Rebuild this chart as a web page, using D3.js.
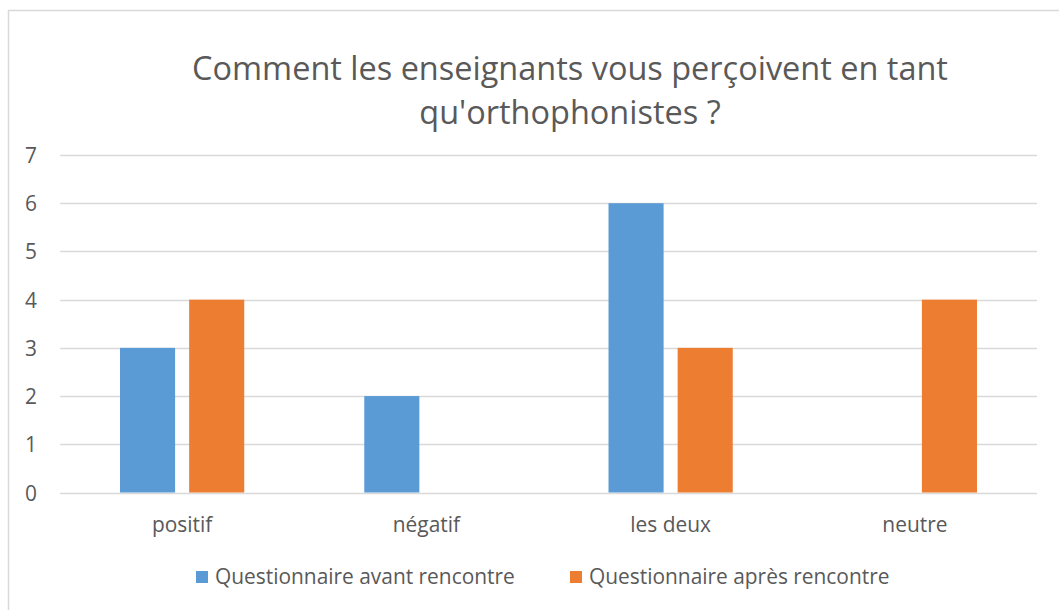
<!DOCTYPE html>
<html>
<head>
<meta charset="utf-8">
<script src="https://cdn.jsdelivr.net/npm/d3@7"></script>
<style>
  html, body { margin: 0; padding: 0; background: #fff; }
  svg { display: block; }
</style>
</head>
<body>
<svg id="chart" width="1059" height="610"></svg>
<script>
// ---- data ----
const categories = ["positif", "négatif", "les deux", "neutre"];
const seriesNames = ["Questionnaire avant rencontre", "Questionnaire après rencontre"];
const avantValues = [3, 2, 6, 0];
const apresValues = [4, 0, 3, 4];
const yTickValues = [0, 1, 2, 3, 4, 5, 6, 7];
const titleLines = ["Comment les enseignants vous perçoivent en tant", "qu'orthophonistes ?"];

// ---- style ----
const colors = ["#5B9BD5", "#ED7D31"];
const textColor = "#595959";
const gridColor = "#D9D9D9";
const fontFamily = "'Open Sans', 'Noto Sans', sans-serif";

const svg = d3.select("#chart");

// border
svg.append("rect")
  .attr("x", 8.5).attr("y", 10.5)
  .attr("width", 1200).attr("height", 800)
  .attr("fill", "#fff").attr("stroke", gridColor).attr("stroke-width", 1.5);

// helper: fit font size so that a text reaches a target width
function fitSize(str, target, base) {
  const t = svg.append("text").attr("font-family", fontFamily).attr("font-size", base).text(str);
  const w = t.node().getComputedTextLength();
  t.remove();
  return base * target / w;
}
const titleSize = fitSize(titleLines[0], 756, 30);
const labelSize = fitSize(seriesNames[0], 300, 20);

// scales
const x = d3.scaleBand().domain(categories).range([60, 1037]).padding(0);
const y = d3.scaleLinear().domain([0, 7]).range([492.5, 155]);
const bw = x.bandwidth();
const xSub = d3.scaleBand().domain([0, 1])
  .range([0.2457 * bw, 0.7543 * bw]).paddingInner(0.203).paddingOuter(0);

// gridlines
svg.append("g").selectAll("line").data(yTickValues).join("line")
  .attr("x1", 60).attr("x2", 1037)
  .attr("y1", d => Math.round(y(d)) + 0.5).attr("y2", d => Math.round(y(d)) + 0.5)
  .attr("stroke", gridColor).attr("stroke-width", 1.3);

// y axis labels via d3 axis
const yAxis = svg.append("g").attr("transform", "translate(37,0)")
  .call(d3.axisLeft(y).tickValues(yTickValues).tickSize(0).tickPadding(0).tickFormat(d3.format("d")));
yAxis.select(".domain").remove();
yAxis.selectAll("text").attr("fill", textColor).attr("font-family", fontFamily)
  .attr("font-size", labelSize).attr("dy", "0.36em");

// x axis labels
const xAxis = svg.append("g").attr("transform", "translate(0,492.5)")
  .call(d3.axisBottom(x).tickSize(0).tickPadding(0));
xAxis.select(".domain").remove();
xAxis.selectAll("text").attr("fill", textColor).attr("font-family", fontFamily)
  .attr("font-size", labelSize).attr("dy", null).attr("y", 39.5);

// bars
const seriesData = [avantValues, apresValues];
seriesData.forEach((vals, si) => {
  svg.append("g").selectAll("rect").data(vals).join("rect")
    .attr("x", (d, i) => x(categories[i]) + xSub(si))
    .attr("width", xSub.bandwidth())
    .attr("y", d => y(d))
    .attr("height", d => y(0) - y(d))
    .attr("fill", colors[si]);
});

// title
svg.append("g").selectAll("text").data(titleLines).join("text")
  .attr("x", 570).attr("y", (d, i) => 80 + i * 44)
  .attr("text-anchor", "middle")
  .attr("font-family", fontFamily).attr("font-size", titleSize)
  .attr("fill", textColor).text(d => d);

// legend
const legendX = [196, 570];
const lg = svg.append("g").selectAll("g").data(seriesNames).join("g")
  .attr("transform", (d, i) => `translate(${legendX[i]},0)`);
lg.append("rect").attr("x", 0).attr("y", 571).attr("width", 12).attr("height", 12)
  .attr("fill", (d, i) => colors[i]);
lg.append("text").attr("x", 19).attr("y", 584)
  .attr("font-family", fontFamily).attr("font-size", labelSize)
  .attr("fill", textColor).text(d => d);
</script>
</body>
</html>
